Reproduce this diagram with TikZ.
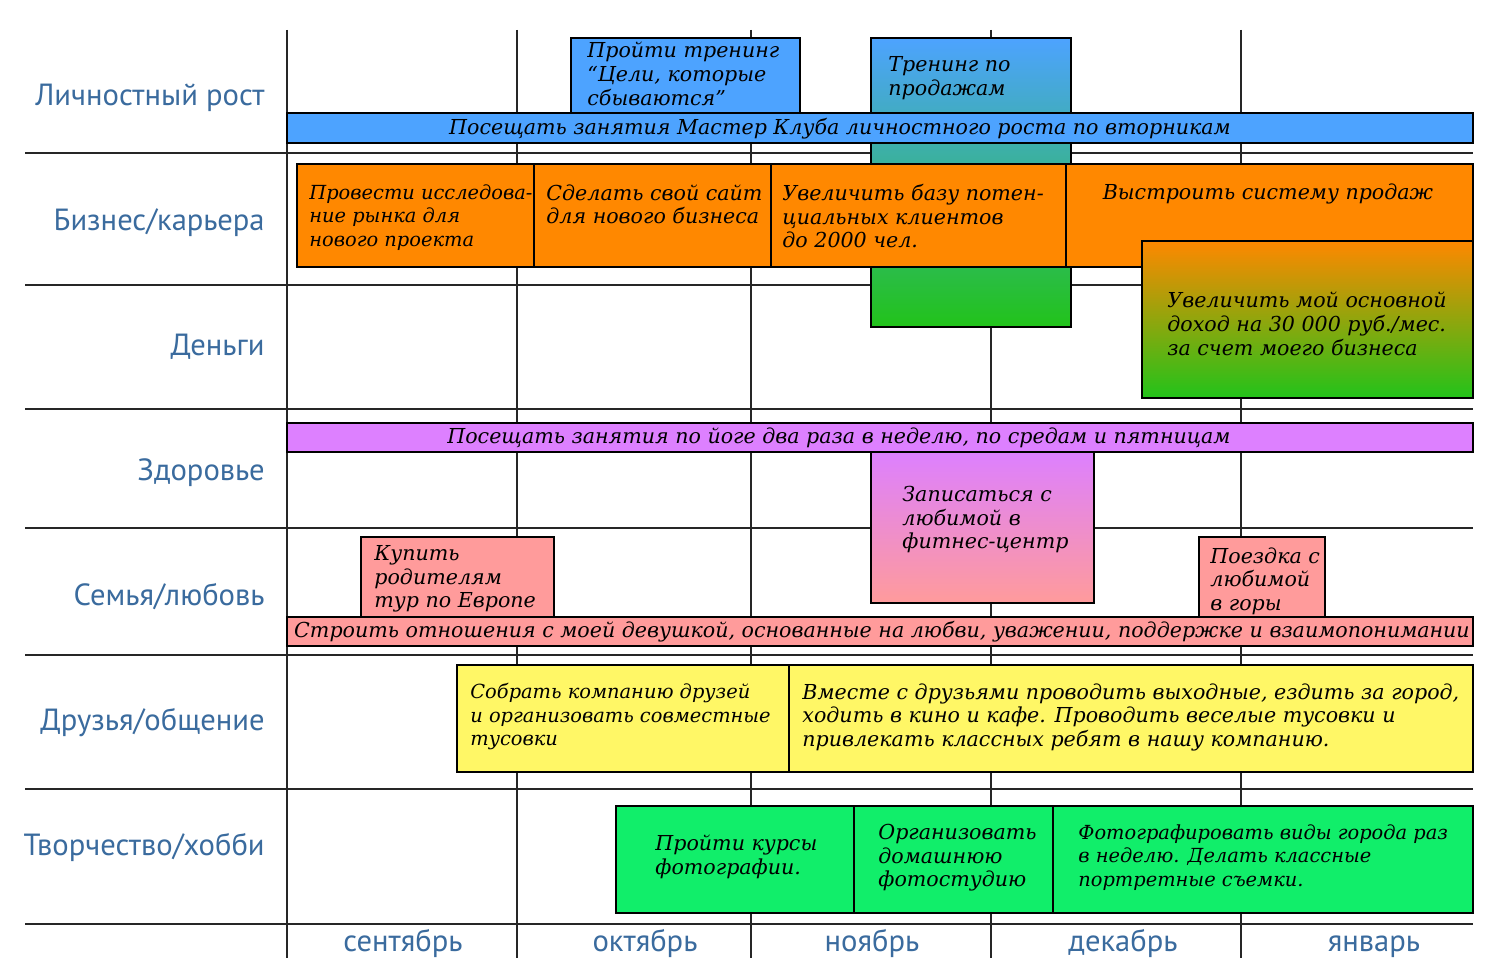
\documentclass[tikz,border=0pt]{standalone}
\usepackage{fontspec}
\setmainfont{PT Sans}
\newfontfamily\hwfont{DejaVu Serif}
\definecolor{labC}{HTML}{3A6B9E}
\definecolor{blueC}{HTML}{4DA3FF}
\definecolor{orangeC}{HTML}{FF8800}
\definecolor{greenC}{HTML}{22C31A}
\definecolor{purpleC}{HTML}{DD80FF}
\definecolor{pinkC}{HTML}{FF9B9B}
\definecolor{yellowC}{HTML}{FFF766}
\definecolor{brightC}{HTML}{11EE6A}
\begin{document}
\begin{tikzpicture}[x=0.5pt,y=-0.5pt,
  grid/.style={line width=1.4pt, black!85},
  box/.style={draw=black, line width=0.6pt},
  hw/.style={font=\hwfont\itshape\fontsize{10.3}{11.8}\selectfont, align=left, anchor=north west, inner sep=0pt},
  hwn/.style={hw, font=\hwfont\itshape\fontsize{9.7}{11.8}\selectfont},
  hwc/.style={font=\hwfont\itshape\fontsize{10.3}{11.8}\selectfont, anchor=center, inner sep=0pt},
  lab/.style={font=\fontsize{15.3}{18}\selectfont, text=labC, anchor=base east, inner sep=0pt},
  mon/.style={font=\fontsize{15.3}{18}\selectfont, text=labC, anchor=base, inner sep=0pt}]
\useasboundingbox[fill=white] (0,0) rectangle (1500,978);

% grid
\foreach \y in {153,285,409,528,655,789,924} \draw[grid] (25,\y) -- (1473,\y);
\foreach \x in {287,517,751,991,1241} \draw[grid] (\x,30) -- (\x,958);

% row labels
\node[lab] (l1) at (265,106) {Личностный рост};
\node[lab] (l2) at (265,231) {Бизнес/карьера};
\node[lab] (l3) at (265,356) {Деньги};
\node[lab] (l4) at (265,481) {Здоровье};
\node[lab] (l5) at (265,605) {Семья/любовь};
\node[lab] (l6) at (265,730) {Друзья/общение};
\node[lab] (l7) at (265,855) {Творчество/хобби};

% months
\node[mon] (m1) at (403,951) {сентябрь};
\node[mon] (m2) at (645,951) {октябрь};
\node[mon] (m3) at (872,951) {ноябрь};
\node[mon] (m4) at (1123,951) {декабрь};
\node[mon] (m5) at (1374,951) {январь};

% personal growth
\path[box, top color=blueC, bottom color=greenC] (871,38) rectangle (1071,327);
\path[box, fill=blueC] (571,38) rectangle (800,113);
\path[box, fill=blueC] (287,113) rectangle (1473,143);
\node[hw] (t1) at (587,42) {Пройти тренинг\\“Цели, которые\\сбываются”};
\node[hw] (t2) at (888,56) {Тренинг по\\продажам};
\node[hwc] (t3) at (840,129) {Посещать занятия Мастер Клуба личностного роста по вторникам};

% business
\path[box, fill=orangeC] (297,164) rectangle (534,267);
\path[box, fill=orangeC] (534,164) rectangle (771,267);
\path[box, fill=orangeC] (771,164) rectangle (1066,267);
\path[box, fill=orangeC] (1066,164) rectangle (1473,267);
\node[hwn] (b1) at (309,184) {Провести исследова-\\ние рынка для\\нового проекта};
\node[hw] (b2) at (546,184) {Сделать свой сайт\\для нового бизнеса};
\node[hw] (b3) at (782,184) {Увеличить базу потен-\\циальных клиентов\\до 2000 чел.};
\node[hwc] (b4) at (1268,194) {Выстроить систему продаж};

% money
\path[box, top color=orangeC, bottom color=greenC, middle color=greenC!50!orangeC] (1142,241) rectangle (1473,398);
\node[hw] (d1) at (1167,292) {Увеличить мой основной\\доход на 30 000 руб./мес.\\за счет моего бизнеса};

% health
\path[box, fill=purpleC] (287,423) rectangle (1473,452);
\path[box, top color=purpleC, bottom color=pinkC] (871,452) rectangle (1094,603);
\node[hwc] (h1) at (839,438) {Посещать занятия по йоге два раза в неделю, по средам и пятницам};
\node[hw] (h2) at (902,486) {Записаться с\\любимой в\\фитнес-центр};

% family
\path[box, fill=pinkC] (361,537) rectangle (554,617);
\path[box, fill=pinkC] (1199,537) rectangle (1325,617);
\path[box, fill=pinkC] (287,617) rectangle (1473,646);
\node[hw] (f1) at (374,545) {Купить\\родителям\\тур по Европе};
\node[hw] (f2) at (1210,547) {Поездка с\\любимой\\в горы};
\node[hwc] (f3) at (882,632) {Строить отношения с моей девушкой, основанные на любви, уважении, поддержке и взаимопонимании};

% friends
\path[box, fill=yellowC] (457,665) rectangle (789,772);
\path[box, fill=yellowC] (789,665) rectangle (1473,772);
\node[hwn] (r1) at (470,683) {Собрать компанию друзей\\и организовать совместные\\тусовки};
\node[hw] (r2) at (802,683) {Вместе с друзьями проводить выходные, ездить за город,\\ходить в кино и кафе. Проводить веселые тусовки и\\привлекать классных ребят в нашу компанию.};

% hobby
\path[box, fill=brightC] (616,806) rectangle (854,913);
\path[box, fill=brightC] (854,806) rectangle (1053,913);
\path[box, fill=brightC] (1053,806) rectangle (1473,913);
\node[hw] (c1) at (655,835) {Пройти курсы\\фотографии.};
\node[hw] (c2) at (878,824) {Организовать\\домашнюю\\фотостудию};
\node[hwn] (c3) at (1078,824) {Фотографировать виды города раз\\в неделю. Делать классные\\портретные съемки.};
\end{tikzpicture}
\end{document}
